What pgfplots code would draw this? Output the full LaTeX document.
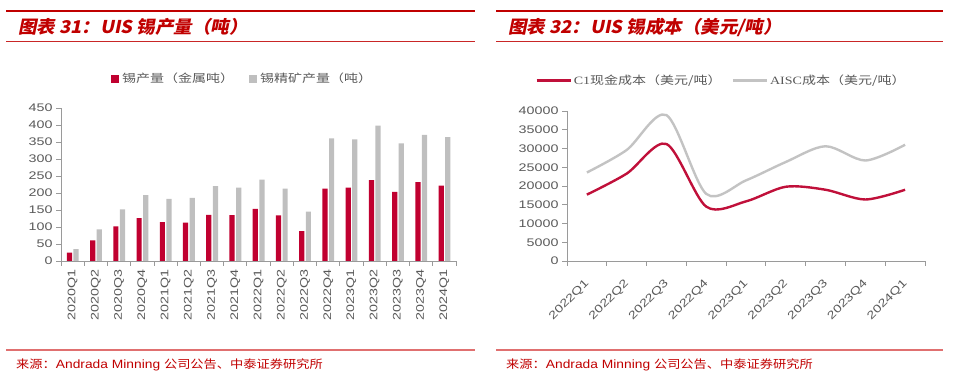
\documentclass[border=0pt]{standalone}
\usepackage{pgfplots}
\pgfplotsset{compat=1.18}
\usepackage{fontspec}
\setmainfont{Liberation Sans}
\newfontfamily\tickf{Liberation Sans}[FakeStretch=1.3]
\newfontfamily\footf{Liberation Sans}[FakeStretch=1.15]
\newfontfamily\cjkf{Noto Sans CJK SC}[FakeStretch=1.25]
\newfontfamily\cjkfoot{Noto Sans CJK SC}[FakeStretch=1.15]
\newfontfamily\cjktitle{Noto Sans CJK SC}[FakeSlant=0.2,FakeStretch=1.05]
\newfontfamily\serf{Liberation Serif}[FakeStretch=1.25]
\definecolor{barred}{HTML}{C00030}
\definecolor{bargray}{HTML}{BFBFBF}
\definecolor{titlered}{HTML}{C00000}
\definecolor{linered}{HTML}{C0103A}
\definecolor{linegray}{HTML}{C3C3C3}
\definecolor{txtgray}{HTML}{595959}
\definecolor{axgray}{HTML}{9A9A9A}
\definecolor{footline}{HTML}{E07070}
\newcommand{\ticksize}{\tickf\fontsize{11}{12}\selectfont}
\begin{document}
\begin{tikzpicture}[x=1pt,y=1pt]
\path[use as bounding box] (0,0) rectangle (959,385);
% decorations left
\draw[titlered, line width=2.6pt] (6,374) -- (475,374);
\draw[titlered!85, line width=0.9pt] (6,344) -- (475,344);
\draw[footline, line width=1.2pt] (6,35) -- (475,35);
\node[anchor=west, inner sep=0, text=titlered] at (18,358) {\cjktitle\bfseries\fontsize{17.6}{19}\selectfont 图表 31：UIS 锡产量（吨）};
\node[anchor=west, inner sep=0, text=titlered] at (16,20) {\cjkfoot\fontsize{11.5}{12}\selectfont 来源：\footf\fontsize{12}{12}\selectfont Andrada Minning \cjkfoot\fontsize{11.5}{12}\selectfont 公司公告、中泰证券研究所};
% decorations right
\draw[titlered, line width=2.6pt] (496,374) -- (943,374);
\draw[titlered!85, line width=0.9pt] (496,344) -- (943,344);
\draw[footline, line width=1.2pt] (496,35) -- (943,35);
\node[anchor=west, inner sep=0, text=titlered] at (508,358) {\cjktitle\bfseries\fontsize{17.6}{19}\selectfont 图表 32：UIS 锡成本（美元/吨）};
\node[anchor=west, inner sep=0, text=titlered] at (506,20) {\cjkfoot\fontsize{11.5}{12}\selectfont 来源：\footf\fontsize{12}{12}\selectfont Andrada Minning \cjkfoot\fontsize{11.5}{12}\selectfont 公司公告、中泰证券研究所};

\begin{axis}[
  at={(61pt,124pt)}, anchor=south west,
  scale only axis, width=395pt, height=153pt,
  xmin=-0.5, xmax=16.5, ymin=0, ymax=450,
  axis x line*=bottom, axis y line*=left,
  axis line style={axgray, line width=0.8pt, -},
  ytick={0,50,...,450},
  xtick={0,...,16},
  xticklabels={2020Q1,2020Q2,2020Q3,2020Q4,2021Q1,2021Q2,2021Q3,2021Q4,2022Q1,2022Q2,2022Q3,2022Q4,2023Q1,2023Q2,2023Q3,2023Q4,2024Q1},
  minor xtick={-0.5,0.5,...,16.5},
  major x tick style={draw=none},
  tick align=outside, major tick length=5pt, minor tick length=5pt,
  tick style={axgray, line width=0.8pt},
  /pgf/number format/assume math mode=true,
  ticklabel style={font=\ticksize, text=txtgray},
  xticklabel style={rotate=90, anchor=east},
  legend columns=2,
  legend style={draw=none, fill=none, at={(0.46,1.19)}, anchor=center,
    font=\cjkf\fontsize{11.2}{12}\selectfont, text=txtgray,
    /tikz/every even column/.append style={column sep=13pt},
    /tikz/every odd column/.append style={column sep=1pt}},
  legend image code/.code={\fill[#1] (0pt,-4pt) rectangle (8pt,4pt);},
]
\addplot[ybar, bar width=5.2pt, bar shift=-3.2pt, fill=barred, draw=none] coordinates {
(0,24.5) (1,61) (2,102) (3,126) (4,114) (5,113) (6,136) (7,135) (8,153) (9,134) (10,88) (11,213) (12,216) (13,238) (14,203) (15,232) (16,222)};
\addlegendentry{锡产量（金属吨）}
\addplot[ybar, bar width=5.2pt, bar shift=3.4pt, fill=bargray, draw=none] coordinates {
(0,35) (1,93) (2,152) (3,194) (4,183) (5,186) (6,220) (7,216) (8,239) (9,213) (10,145) (11,361) (12,358) (13,398) (14,346) (15,371) (16,364)};
\addlegendentry{锡精矿产量（吨）}
\end{axis}

\begin{axis}[
  at={(567pt,124pt)}, anchor=south west,
  scale only axis, width=358pt, height=150pt,
  xmin=-0.5, xmax=8.5, ymin=0, ymax=40000,
  axis x line*=bottom, axis y line*=left,
  axis line style={axgray, line width=0.8pt, -},
  ytick={0,5000,...,40000}, scaled y ticks=false,
  yticklabel style={/pgf/number format/.cd, set thousands separator={}},
  xtick={0,...,8},
  xticklabels={2022Q1,2022Q2,2022Q3,2022Q4,2023Q1,2023Q2,2023Q3,2023Q4,2024Q1},
  minor xtick={-0.5,0.5,...,8.5},
  major x tick style={draw=none},
  tick align=outside, major tick length=5pt, minor tick length=5pt,
  tick style={axgray, line width=0.8pt},
  /pgf/number format/assume math mode=true,
  ticklabel style={font=\ticksize, text=txtgray},
  xticklabel style={xshift=0.5pt, yshift=-16pt, rotate=45, anchor=east, inner sep=0pt},
  legend columns=2,
  legend style={draw=none, fill=none, at={(0.4316,1.202)}, anchor=center,
    font=\cjkf\fontsize{11.2}{12}\selectfont, text=txtgray,
    /tikz/every even column/.append style={column sep=8pt}},
  legend image code/.code={\draw[#1] (0pt,0pt) -- (34pt,0pt);},
]
\addplot[linered, line width=2.4pt, smooth, mark=none] coordinates {
(0,17700) (1,23300) (2,31200) (3,14500) (4,15900) (5,19800) (6,19000) (7,16400) (8,19000)};
\addlegendentry{{\serf C1}现金成本（美元/吨）}
\addplot[linegray, line width=2.4pt, smooth, mark=none] coordinates {
(0,23600) (1,29600) (2,38900) (3,17900) (4,21500) (5,26400) (6,30600) (7,26800) (8,31000)};
\addlegendentry{{\serf AISC}成本（美元/吨）}
\end{axis}
\end{tikzpicture}
\end{document}
